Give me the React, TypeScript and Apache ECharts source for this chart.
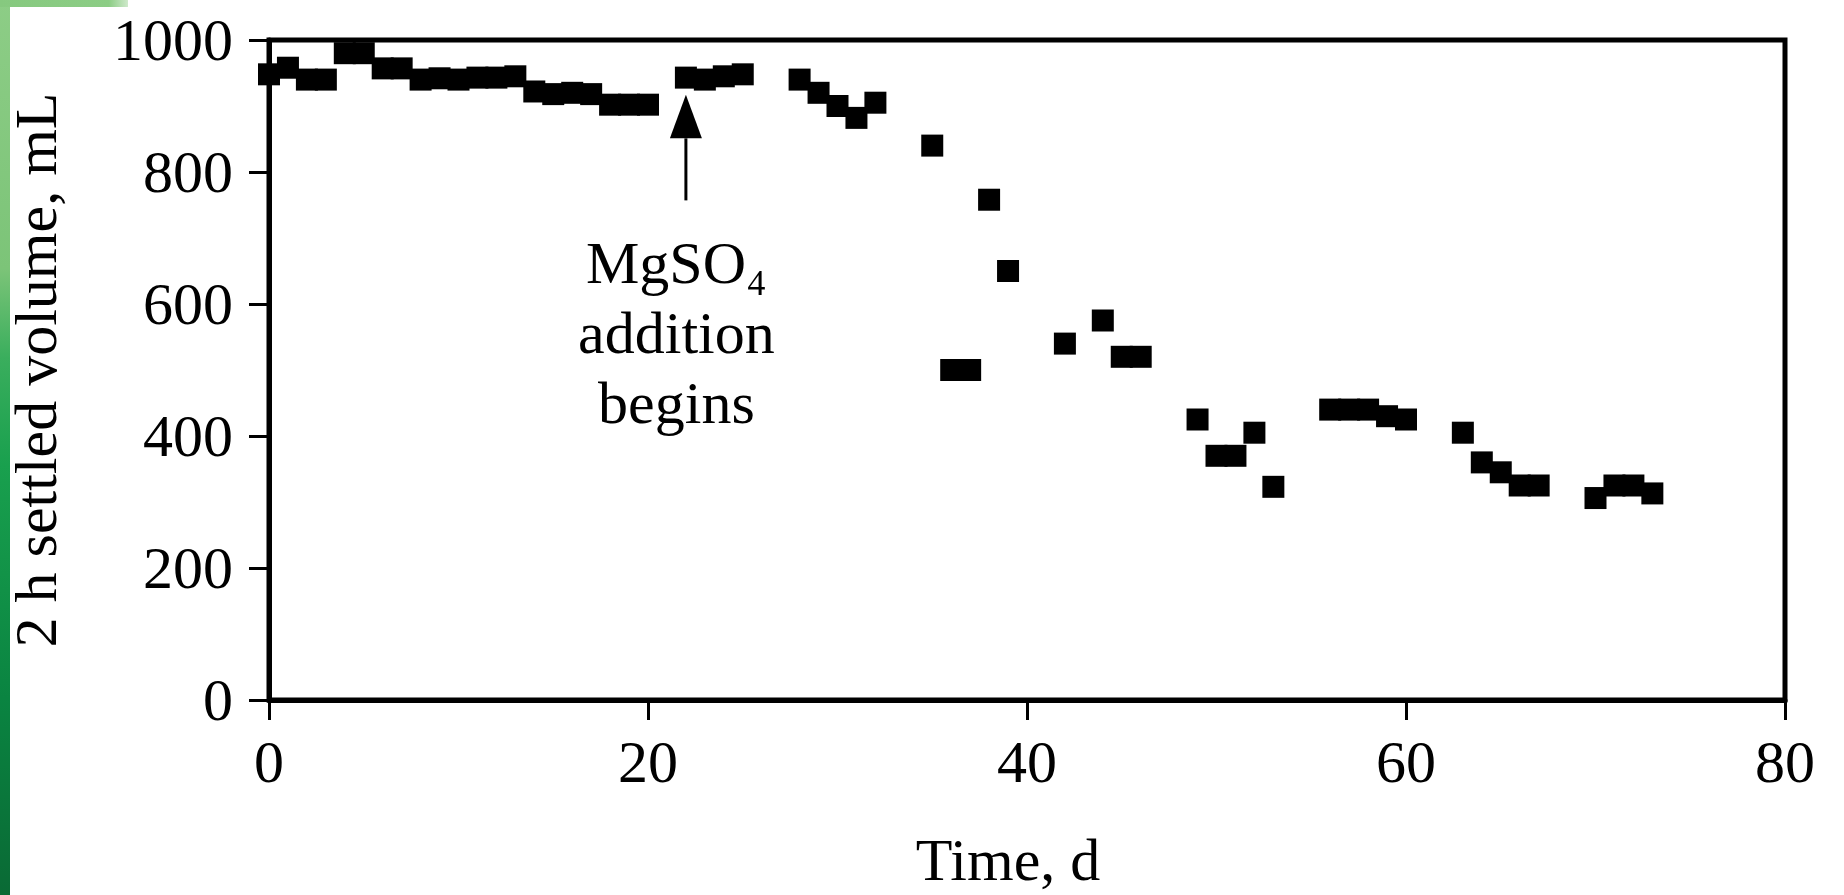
import React, { useEffect, useRef } from "react";
import * as echarts from "echarts";

// Time (d) and 2 h settled volume (mL)
const days = [
  0, 1, 2, 3, 4, 5, 6, 7, 8, 9, 10, 11, 12, 13, 14, 15, 16, 17, 18, 19, 20,
  22, 23, 24, 25, 28, 29, 30, 31, 32, 35, 36, 37, 38, 39, 42, 44, 45, 46,
  49, 50, 51, 52, 53, 56, 57, 58, 59, 60, 63, 64, 65, 66, 67, 70, 71, 72, 73,
];
const volumes = [
  948, 958, 940, 940, 980, 980, 957, 957, 940, 942, 940, 943, 943, 945, 922,
  918, 920, 918, 902, 902, 902, 943, 940, 945, 948, 940, 920, 900, 882, 905,
  840, 500, 500, 758, 650, 540, 575, 520, 520, 425, 370, 370, 405, 323, 440,
  440, 440, 430, 425, 405, 360, 345, 325, 325, 306, 325, 325, 313,
];

const xTickValues = [0, 20, 40, 60, 80];
const yTickValues = [0, 200, 400, 600, 800, 1000];

// annotation (data coordinates)
const arrowDay = 22;
const arrowTipValue = 917;
const arrowHeadBaseValue = 851;
const arrowTailValue = 757;
const noteDay = 21.5;
const noteText = "MgSO\u2084\naddition\nbegins";

const FONT = "'Liberation Serif', 'Times New Roman', Times, serif";

export default function App() {
  const ref = useRef<HTMLDivElement>(null);

  useEffect(() => {
    if (!ref.current) return;
    const chart = echarts.init(ref.current, null, { renderer: "svg" });
    const data = days.map((d, i) => [d, volumes[i]]);

    chart.setOption({
      animation: false,
      backgroundColor: "#ffffff",
      grid: {
        left: 269,
        right: 59,
        top: 40,
        bottom: 195,
        show: true,
        borderColor: "#000",
        borderWidth: 5,
        backgroundColor: "transparent",
        outerBoundsMode: "none",
        containLabel: false,
      },
      xAxis: {
        type: "value",
        min: xTickValues[0],
        max: xTickValues[xTickValues.length - 1],
        interval: 20,
        name: "Time, d",
        nameLocation: "middle",
        nameGap: 130,
        nameTextStyle: {
          fontFamily: FONT,
          fontSize: 60,
          color: "#000",
          padding: [0, 38, 0, 0],
        },
        axisLine: { show: true, onZero: false, lineStyle: { color: "#000", width: 5 } },
        axisTick: { show: true, length: 20, lineStyle: { color: "#000", width: 3 } },
        axisLabel: {
          fontFamily: FONT,
          fontSize: 60,
          color: "#000",
          margin: 32,
          formatter: (v: number) => String(v),
        },
        splitLine: { show: false },
      },
      yAxis: {
        type: "value",
        min: yTickValues[0],
        max: yTickValues[yTickValues.length - 1],
        interval: 200,
        name: "2 h settled volume, mL",
        nameLocation: "middle",
        nameRotate: 90,
        nameGap: 203,
        nameTextStyle: { fontFamily: FONT, fontSize: 60, color: "#000" },
        axisLine: { show: true, onZero: false, lineStyle: { color: "#000", width: 5 } },
        axisTick: { show: true, length: 20, lineStyle: { color: "#000", width: 3 } },
        axisLabel: {
          fontFamily: FONT,
          fontSize: 60,
          color: "#000",
          margin: 36,
          formatter: (v: number) => String(v),
        },
        splitLine: { show: false },
      },
      series: [
        {
          type: "scatter",
          data,
          symbol: "rect",
          symbolSize: [22, 22],
          itemStyle: { color: "#000", opacity: 1 },
          emphasis: { disabled: true },
        },
      ],
    });

    const [ax, tipY] = chart.convertToPixel({ gridIndex: 0 }, [arrowDay, arrowTipValue]);
    const baseY = chart.convertToPixel({ gridIndex: 0 }, [arrowDay, arrowHeadBaseValue])[1];
    const tailY = chart.convertToPixel({ gridIndex: 0 }, [arrowDay, arrowTailValue])[1];
    const noteX = chart.convertToPixel({ gridIndex: 0 }, [noteDay, 0])[0];
    const noteTop = tailY + 28;

    chart.setOption({
      graphic: [
        {
          id: "leftStrip",
          type: "rect",
          shape: { x: 0, y: 0, width: 10, height: 895 },
          style: {
            fill: new echarts.graphic.LinearGradient(0, 0, 0, 1, [
              { offset: 0, color: "#8dcd86" },
              { offset: 0.3, color: "#7cc478" },
              { offset: 0.4, color: "#3aae5d" },
              { offset: 0.52, color: "#19a04e" },
              { offset: 0.78, color: "#0a8441" },
              { offset: 1, color: "#0a6a35" },
            ]),
          },
          z: 100,
        },
        {
          id: "topBand",
          type: "rect",
          shape: { x: 0, y: 0, width: 128, height: 7 },
          style: {
            fill: new echarts.graphic.LinearGradient(0, 0, 1, 0, [
              { offset: 0, color: "#86c97f" },
              { offset: 0.85, color: "#8ccd85" },
              { offset: 1, color: "#cfe9cb" },
            ]),
          },
          z: 100,
        },
        {
          id: "arrowShaft",
          type: "line",
          shape: { x1: ax, y1: tailY, x2: ax, y2: baseY },
          style: { stroke: "#000", lineWidth: 3 },
          z: 50,
        },
        {
          id: "arrowHead",
          type: "polygon",
          shape: {
            points: [
              [ax - 16, baseY],
              [ax + 16, baseY],
              [ax, tipY],
            ],
          },
          style: { fill: "#000" },
          z: 50,
        },
        {
          id: "note",
          type: "text",
          x: noteX,
          y: noteTop,
          style: {
            text: noteText,
            fontFamily: FONT,
            fontSize: 60,
            lineHeight: 70,
            fill: "#000",
            align: "center",
            verticalAlign: "top",
          },
          z: 50,
        },
      ],
    });

    return () => chart.dispose();
  }, []);

  return (
    <div
      ref={ref}
      style={{ position: "fixed", left: 0, top: 0, width: 1844, height: 895, background: "#fff" }}
    />
  );
}
